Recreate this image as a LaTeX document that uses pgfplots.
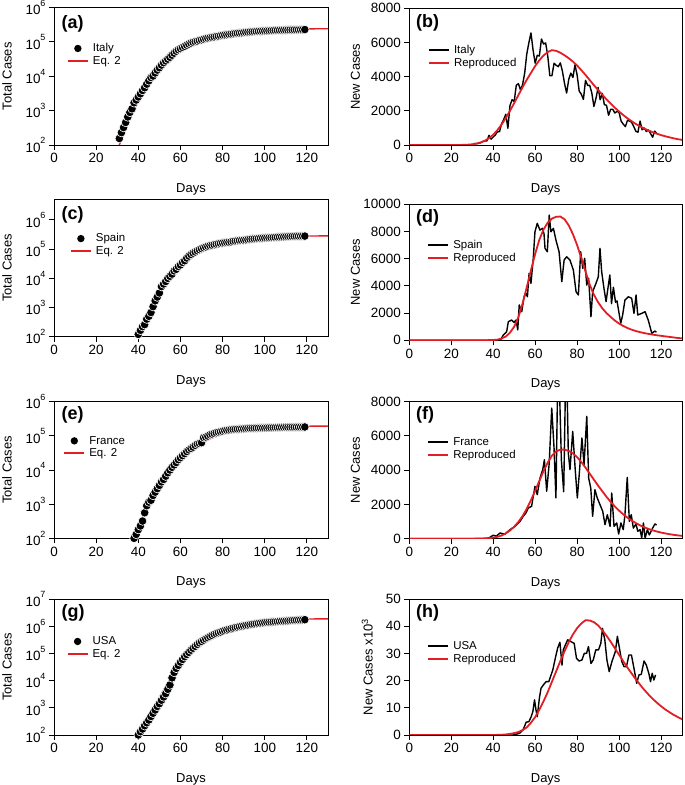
\documentclass[border=0pt]{standalone}
\usepackage{fontspec}
\setmainfont{Liberation Sans}
\usepackage{pgfplots}
\pgfplotsset{compat=1.18}
\definecolor{myred}{RGB}{226,30,36}
\newcommand{\tp}[1]{10\raisebox{0.62em}{\fontsize{9}{9}\selectfont #1}}
\pgfplotsset{
  myBase/.style={scale only axis, width=274bp, xmin=0, xmax=130, xtick={0,20,...,120},
    tick align=outside, xtick pos=bottom, ytick pos=left, major tick length=5bp,
    every tick/.style={black, line width=0.9bp}, axis line style={black, line width=0.9bp},
    tick label style={font=\fontsize{13.5}{15}\selectfont},
    label style={font=\fontsize{13}{15}\selectfont},
    xlabel={Days},
    xlabel style={at={(axis description cs:0.5,-0.325)}, anchor=center},
    /pgf/number format/assume math mode=true, /pgf/number format/1000 sep={},
    scaled y ticks=false, clip=true,
    legend style={draw=none, fill=none, inner sep=0pt, outer sep=0pt,
      font=\fontsize{11.5}{12}\selectfont, row sep=1bp, column sep=3bp,
      anchor=north west, nodes={inner sep=1bp}},
    legend cell align=left,
    legend image code/.code={\draw[mark repeat=2,mark phase=2,##1,line width=2bp] plot coordinates {(0bp,0bp) (10bp,0bp) (20bp,0bp)};},
  },
  myLeft/.style={myBase, yminorticks=false, ylabel={Total Cases},
    ylabel style={at={(axis description cs:-0.172,0.5)}, anchor=center}},
  myRight/.style={myBase, width=272.7bp, ymin=0, ylabel={New Cases},
    ylabel style={at={(axis description cs:-0.198,0.5)}, anchor=center}},
  myMk/.style={only marks, mark=*, mark size=4.3bp, mark options={fill=black, draw=white, line width=0.6bp}, forget plot},
  myFitL/.style={color=myred, line width=1.4bp, no marks},
  myFitR/.style={color=myred, line width=1.8bp, no marks},
  myBlk/.style={black, line width=1.4bp, no marks, line join=round},
}
\tikzset{plab/.style={anchor=west, font=\fontsize{18}{20}\selectfont\bfseries}}
\begin{document}
\begin{tikzpicture}
\useasboundingbox (0,0) rectangle (685bp,785bp);

% ---------------- (a) Italy total ----------------
\begin{axis}[myLeft, ymode=log, ymin=100, ymax=1e6, at={(54bp,640bp)}, anchor=south west, height=137.5bp,
  ytick={1e2,1e3,1e4,1e5,1e6}, yticklabels={\tp{2},\tp{3},\tp{4},\tp{5},\tp{6}},
  legend style={at={(axis description cs:0.047,0.745)}}]
\addlegendimage{/tikz/only marks, mark=*, black, mark size=2.6bp}\addlegendentry{Italy}
\addplot[myMk] coordinates {(31,155)(32,229)(33,322)(34,453)(35,655)(36,888)(37,1128)(38,1694)(39,2036)(40,2502)(41,3089)(42,3858)(43,4636)(44,5883)(45,7375)(46,9172)(47,10149)(48,12462)(49,15113)(50,17660)(51,21157)(52,24747)(53,27980)(54,31506)(55,35713)(56,41035)(57,47021)(58,53578)(59,59138)(60,63927)(61,69176)(62,74386)(63,80589)(64,86498)(65,92472)(66,97689)(67,101739)(68,105792)(69,110574)(70,115242)(71,119827)(72,124632)(73,128948)(74,132547)(75,135586)(76,139422)(77,143626)(78,147577)(79,152271)(80,156363)(81,159516)(82,162488)(83,165155)(84,168941)(85,172434)(86,175925)(87,178972)(88,181228)(89,183957)(90,187327)(91,189973)(92,192994)(93,195351)(94,197675)(95,199414)(96,201505)(97,203591)(98,205463)(99,207428)(100,209328)(101,210717)(102,211938)(103,213013)(104,214457)(105,215858)(106,217185)(107,218268)(108,219070)(109,219814)(110,221216)(111,222104)(112,223096)(113,223885)(114,224760)(115,225435)(116,225886)(117,226699)(118,227364)(119,228006)};
\addplot[myFitL] coordinates {(31,100)(32,145)(33,210)(34,300)(35,420)(36,580)(37,790)(38,1070)(40,1900)(42,3200)(44,5200)(46,8000)(48,12000)(50,17300)(52,24000)(54,32000)(56,41000)(58,51000)(60,61000)(62,72000)(64,83000)(66,95000)(68,106000)(70,117000)(72,128000)(74,138000)(76,148000)(78,157000)(80,166000)(82,174000)(84,181000)(86,188000)(88,194000)(90,200000)(92,205000)(94,210000)(96,214000)(98,218000)(100,221500)(102,224500)(104,227000)(106,229500)(108,231500)(110,233300)(112,234800)(114,236100)(116,237200)(118,238100)(120,238900)(124,240100)(130,241300)};
\addlegendentry{Eq. 2}
\node[plab] at (axis description cs:0.015,0.884) {(a)};
\end{axis}

% ---------------- (b) Italy new ----------------
\begin{axis}[myRight, at={(409.3bp,640bp)}, anchor=south west, height=136.7bp, ymax=8000,
  ytick={0,2000,...,8000},
  legend style={at={(axis description cs:0.0686,0.736)}}]
\addplot[myBlk] coordinates {(0,0)(30,0)(31,90)(32,75)(33,95)(34,130)(35,200)(36,235)(37,240)(38,566)(39,342)(40,466)(41,587)(42,769)(43,778)(44,1247)(45,1492)(46,1797)(47,977)(48,2313)(49,2651)(50,2547)(51,3497)(52,3590)(53,3233)(54,3526)(55,4207)(56,5322)(57,5986)(58,6557)(59,5560)(60,4789)(61,5249)(62,5210)(63,6203)(64,5909)(65,5974)(66,5217)(67,4050)(68,4053)(69,4782)(70,4668)(71,4585)(72,4805)(73,4316)(74,3599)(75,3039)(76,3836)(77,4204)(78,3951)(79,4694)(80,4092)(81,3153)(82,2972)(83,2667)(84,3786)(85,3493)(86,3491)(87,3047)(88,2256)(89,2729)(90,3370)(91,2646)(92,3021)(93,2357)(94,2324)(95,1739)(96,2091)(97,2086)(98,1872)(99,1965)(100,1900)(101,1389)(102,1221)(103,1075)(104,1444)(105,1401)(106,1327)(107,1083)(108,802)(109,744)(110,1402)(111,888)(112,992)(113,789)(114,875)(115,675)(116,451)(117,813)(118,665)};
\addlegendentry{Italy}
\addplot[myFitR] coordinates {(0,0)(20,0)(25,5)(28,20)(30,40)(32,80)(34,150)(36,250)(38,400)(40,600)(42,870)(44,1200)(46,1580)(48,2000)(50,2450)(52,2920)(54,3380)(56,3820)(58,4220)(60,4620)(62,4960)(64,5240)(66,5440)(68,5550)(70,5510)(72,5400)(74,5250)(76,5080)(78,4880)(80,4650)(82,4380)(84,4100)(86,3800)(88,3500)(90,3220)(92,2940)(94,2670)(96,2420)(98,2180)(100,1960)(102,1750)(104,1560)(106,1390)(108,1230)(110,1090)(112,960)(114,850)(116,750)(118,660)(120,580)(122,510)(124,450)(126,390)(128,340)(130,300)};
\addlegendentry{Reproduced}
\node[plab] at (axis description cs:0.0125,0.89) {(b)};
\end{axis}

% ---------------- (c) Spain total ----------------
\begin{axis}[myLeft, ymode=log, ymin=100, ymax=5e6, at={(54bp,448.3bp)}, anchor=south west, height=137.2bp,
  ytick={1e2,1e3,1e4,1e5,1e6}, yticklabels={\tp{2},\tp{3},\tp{4},\tp{5},\tp{6}},
  legend style={at={(axis description cs:0.058,0.758)}}]
\addlegendimage{/tikz/only marks, mark=*, black, mark size=2.6bp}\addlegendentry{Spain}
\addplot[myMk] coordinates {(40,120)(41,165)(42,222)(43,259)(44,400)(45,500)(46,673)(47,1073)(48,1695)(49,2277)(50,3146)(51,5232)(52,6391)(53,7798)(54,9942)(55,11748)(56,13910)(57,17963)(58,20410)(59,25374)(60,28768)(61,35136)(62,39885)(63,49515)(64,57786)(65,65719)(66,73235)(67,80110)(68,87956)(69,95923)(70,104118)(71,112065)(72,119199)(73,126168)(74,131646)(75,136675)(76,141942)(77,148220)(78,153222)(79,158273)(80,163027)(81,166831)(82,170099)(83,172541)(84,177644)(85,184948)(86,190839)(87,194416)(88,198674)(89,200210)(90,204178)(91,208389)(92,213024)(93,219764)(94,223759)(95,226629)(96,229422)(97,232128)(98,236899)(99,239639)(100,242988)(101,245567)(102,247122)(103,248301)(104,250561)(105,253682)(106,256855)(107,260117)(108,262783)(109,264663)(110,268143)(111,269520)(112,271095)(113,272646)(114,274367)(115,276505)(116,276505)(117,277719)(118,278188)(119,278803)};
\addplot[myFitL] coordinates {(40,110)(42,175)(44,330)(46,720)(48,1600)(50,3300)(52,6150)(54,10400)(56,16200)(58,23850)(60,33600)(62,45400)(64,59100)(66,74500)(68,91250)(70,108900)(72,127050)(74,145250)(76,163100)(78,180200)(80,196100)(82,210400)(84,222900)(86,233600)(88,242500)(90,249750)(92,255650)(94,260450)(96,264350)(98,267500)(100,270050)(102,272150)(104,273880)(106,275360)(108,276650)(110,277740)(112,278660)(114,279430)(116,280080)(118,280640)(120,281120)(124,281880)(130,282640)};
\addlegendentry{Eq. 2}
\node[plab] at (axis description cs:0.015,0.887) {(c)};
\end{axis}

% ---------------- (d) Spain new ----------------
\begin{axis}[myRight, at={(409.3bp,444.7bp)}, anchor=south west, height=136bp, ymax=10000,
  ytick={0,2000,...,10000},
  legend style={at={(axis description cs:0.066,0.742)}}]
\addplot[myBlk] coordinates {(0,0)(43.4,0)(44.8,390)(46.4,630)(47.2,1370)(48.8,1490)(49.9,1320)(50.9,1490)(51.7,760)(52.4,2600)(53.6,2100)(54.7,3200)(55.6,3450)(56.3,3200)(57.1,4920)(58.0,4190)(59.1,6030)(59.9,7980)(61.0,8600)(62.3,8100)(63.4,8230)(64.2,7860)(64.7,6760)(65.8,6510)(66.7,9210)(67.5,7980)(68.7,8230)(69.9,7370)(71.4,6510)(72.7,4310)(73.8,5900)(75.0,6140)(76.6,5900)(78.2,5170)(79.5,3570)(80.6,3330)(81.7,6510)(82.7,5290)(83.6,6030)(84.6,4060)(85.5,4560)(86.6,1730)(87.4,3570)(89.0,4190)(90.1,4670)(90.9,6760)(91.7,5040)(92.8,3820)(93.8,2840)(94.9,4060)(95.6,4800)(96.4,2700)(97.3,3900)(98.3,2800)(99.0,2900)(100.8,1250)(101.7,1860)(102.8,2960)(104.4,3200)(106.0,3090)(107.1,1980)(108.1,3330)(108.9,1860)(110.8,1980)(112.4,2100)(113.9,1490)(115.6,510)(117.1,680)(117.8,600)};
\addlegendentry{Spain}
\addplot[myFitR] coordinates {(0,0)(30,0)(36,5)(40,20)(42,50)(44,130)(46,280)(48,560)(50,1000)(52,1700)(54,2700)(56,3900)(58,5150)(60,6350)(62,7400)(64,8150)(66,8650)(68,8950)(70,9080)(72,9100)(74,8900)(76,8450)(78,7800)(80,7000)(82,6050)(84,5050)(86,4100)(88,3350)(90,2800)(92,2350)(94,2000)(96,1720)(98,1450)(100,1230)(102,1050)(104,900)(106,780)(108,680)(110,600)(112,530)(114,470)(116,420)(118,370)(120,330)(122,290)(124,250)(126,210)(128,170)(130,140)};
\addlegendentry{Reproduced}
\node[plab] at (axis description cs:0.0125,0.897) {(d)};
\end{axis}

% ---------------- (e) France total ----------------
\begin{axis}[myLeft, ymode=log, ymin=100, ymax=1e6, at={(54bp,246.7bp)}, anchor=south west, height=136.6bp,
  ytick={1e2,1e3,1e4,1e5,1e6}, yticklabels={\tp{2},\tp{3},\tp{4},\tp{5},\tp{6}},
  legend style={at={(axis description cs:0.034,0.755)}}]
\addlegendimage{/tikz/only marks, mark=*, black, mark size=2.6bp}\addlegendentry{France}
\addplot[myMk] coordinates {(38,100)(39,130)(40,180)(41,230)(42,320)(43,560)(44,900)(45,1150)(46,1300)(47,1800)(48,2250)(49,2850)(50,3550)(51,4500)(52,5300)(53,6600)(54,8300)(55,10000)(56,12000)(57,14100)(58,16600)(59,20000)(60,22900)(61,26300)(62,30200)(63,34700)(64,38900)(65,42700)(66,46800)(67,52500)(68,57500)(69,60000)(70,63000)(71,89000)(72,93000)(73,99000)(74,108000)(75,113000)(76,118000)(77,124000)(78,129000)(79,133000)(80,137000)(81,143000)(82,146000)(83,149000)(84,152000)(85,154000)(86,156000)(87,158000)(88,159500)(89,161000)(90,162500)(91,164000)(92,165500)(93,166500)(94,167500)(95,168500)(96,169500)(97,170500)(98,171000)(99,171500)(100,172000)(101,172700)(102,173500)(103,174000)(104,174800)(105,175500)(106,176000)(107,176500)(108,177000)(109,177500)(110,178000)(111,178400)(112,178800)(113,179200)(114,179600)(115,180000)(116,180400)(117,180800)(118,181300)(119,181800)};
\addplot[myFitL] coordinates {(38,100)(40,190)(42,360)(44,660)(46,1160)(48,1950)(50,3130)(52,4810)(54,7110)(56,10180)(58,14180)(60,19230)(62,25410)(64,32740)(66,41140)(68,50440)(70,60390)(72,70690)(74,81090)(76,91420)(78,101530)(80,111270)(82,120510)(84,129140)(86,137090)(88,144340)(90,150890)(92,156760)(94,161980)(96,166580)(98,170610)(100,174130)(102,177190)(104,179840)(106,182130)(108,184100)(110,185790)(112,187240)(114,188480)(116,189540)(118,190450)(120,191230)(124,192475)(130,193745)};
\addlegendentry{Eq. 2}
\node[plab] at (axis description cs:0.015,0.903) {(e)};
\end{axis}

% ---------------- (f) France new ----------------
\begin{axis}[myRight, at={(409.3bp,246.3bp)}, anchor=south west, height=137bp, ymax=8000,
  ytick={0,2000,...,8000},
  legend style={at={(axis description cs:0.066,0.745)}}]
\addplot[myBlk] coordinates {(0,0)(36,0)(38,50)(40,200)(41.5,150)(43.2,330)(45.6,270)(48.0,530)(50.4,720)(52.8,1010)(54.3,1310)(55.6,1500)(56.7,1790)(58.3,1890)(59.9,3060)(61.0,2570)(62.3,3540)(63.6,4030)(64.4,4610)(65.5,2770)(66.7,4420)(67.9,7630)(69.0,5300)(69.9,2380)(71.0,11500)(72.5,4590)(73.6,2740)(74.8,11500)(75.8,5000)(76.6,4030)(77.9,6270)(79.1,4030)(80.1,2380)(81.0,3740)(82.3,5880)(83.3,4320)(84.6,7150)(85.5,3540)(86.5,2960)(87.4,1310)(88.5,2860)(89.6,2380)(90.9,1990)(92.2,1600)(93.3,820)(94.4,1400)(95.7,720)(96.5,2670)(97.6,720)(98.9,920)(99.8,270)(100.9,920)(102.0,530)(102.8,1400)(103.9,3580)(104.9,1010)(105.8,1400)(106.8,620)(108.1,860)(108.9,430)(110.0,530)(110.8,50)(111.6,920)(112.4,30)(113.5,530)(114.4,220)(116.0,620)(117.1,860)(117.9,800)};
\addlegendentry{France}
\addplot[myFitR] coordinates {(0,0)(30,0)(34,10)(38,30)(40,60)(42,110)(44,190)(46,310)(48,480)(50,700)(52,980)(54,1320)(56,1750)(58,2250)(60,2800)(62,3380)(64,3950)(66,4450)(68,4850)(70,5100)(72,5200)(74,5200)(76,5130)(78,4980)(80,4760)(82,4480)(84,4150)(86,3800)(88,3450)(90,3100)(92,2770)(94,2450)(96,2150)(98,1880)(100,1640)(102,1420)(104,1230)(106,1060)(108,910)(110,780)(112,670)(114,570)(116,490)(118,420)(120,360)(122,310)(124,265)(126,225)(128,195)(130,165)};
\addlegendentry{Reproduced}
\node[plab] at (axis description cs:0.0125,0.903) {(f)};
\end{axis}

% ---------------- (g) USA total ----------------
\begin{axis}[myLeft, ymode=log, ymin=100, ymax=1e7, at={(54bp,50bp)}, anchor=south west, height=136bp,
  ytick={1e2,1e3,1e4,1e5,1e6,1e7}, yticklabels={\tp{2},\tp{3},\tp{4},\tp{5},\tp{6},\tp{7}},
  legend style={at={(axis description cs:0.046,0.73)}}]
\addlegendimage{/tikz/only marks, mark=*, black, mark size=2.6bp}\addlegendentry{USA}
\addplot[myMk] coordinates {(40,100)(41,132)(42,166)(43,219)(44,282)(45,355)(46,479)(47,631)(48,832)(49,1122)(50,1413)(51,1905)(52,2512)(53,3311)(54,4786)(55,6918)(56,12589)(57,19953)(58,28184)(59,36308)(60,47863)(61,60256)(62,75858)(63,91201)(64,109648)(65,131826)(66,154882)(67,181970)(68,213796)(69,245471)(70,275423)(71,309030)(72,346737)(73,380189)(74,416869)(75,457088)(76,501187)(77,537032)(78,575440)(79,616595)(80,660693)(81,700000)(82,735000)(83,770000)(84,810000)(85,850000)(86,890000)(87,930000)(88,970000)(89,1005000)(90,1040000)(91,1075000)(92,1110000)(93,1145000)(94,1180000)(95,1212000)(96,1244000)(97,1276000)(98,1308000)(99,1340000)(100,1370000)(101,1390000)(102,1410000)(103,1430000)(104,1450000)(105,1470000)(106,1490000)(107,1510000)(108,1530000)(109,1550000)(110,1570000)(111,1590000)(112,1610000)(113,1628000)(114,1646000)(115,1664000)(116,1682000)(117,1700000)(118,1718000)(119,1736000)};
\addplot[myFitL] coordinates {(40,100)(42,190)(44,360)(46,680)(48,1260)(50,2400)(52,4470)(54,8130)(56,14800)(58,26900)(60,44700)(62,70800)(64,105000)(66,148000)(68,200000)(70,269000)(72,347000)(74,427000)(76,513000)(78,603000)(80,692000)(82,794000)(84,891000)(86,977000)(88,1070000)(90,1175000)(92,1259000)(94,1334000)(96,1413000)(98,1479000)(100,1531000)(102,1578000)(104,1622000)(106,1660000)(108,1698000)(110,1730000)(112,1758000)(114,1778000)(116,1799000)(118,1820000)(120,1832000)(124,1849000)(130,1862000)};
\addlegendentry{Eq. 2}
\node[plab] at (axis description cs:0.015,0.895) {(g)};
\end{axis}

% ---------------- (h) USA new ----------------
\begin{axis}[myRight, at={(409.3bp,50bp)}, anchor=south west, height=136bp, ymax=50,
  ytick={0,10,...,50}, ylabel={New Cases x10\textsuperscript{3}},
  ylabel style={at={(axis description cs:-0.154,0.5)}, anchor=center},
  legend style={at={(axis description cs:0.066,0.695)}}]
\addplot[myBlk] coordinates {(0,0)(49.4,0)(52.5,0.6)(54.1,1.8)(54.9,3.1)(55.7,4.7)(57.0,4.9)(58.1,6.7)(58.9,8.6)(59.7,12.9)(60.4,9.2)(61.0,6.7)(62.0,13.5)(62.8,17.2)(63.9,18.4)(65.2,19.6)(66.5,19.6)(67.6,22.1)(68.4,23.9)(69.6,28.2)(70.7,31.9)(71.8,34.1)(72.8,25.7)(73.4,31.3)(74.4,33.1)(75.5,35.0)(77.1,34.3)(78.6,33.7)(79.7,28.2)(81.0,27.2)(82.3,27.6)(83.4,30.0)(84.5,30.0)(85.4,32.5)(86.6,26.3)(87.7,27.6)(88.9,31.3)(90.2,31.3)(91.3,33.7)(92.1,39.2)(93.2,35.0)(94.2,27.6)(95.3,23.3)(96.6,27.0)(98.2,30.6)(99.2,36.3)(100.3,31.3)(101.3,27.0)(102.4,25.1)(103.5,25.1)(104.7,29.4)(105.9,29.4)(107.1,24.5)(108.4,19.0)(109.5,22.1)(110.6,22.3)(111.9,27.2)(113.0,25.7)(114.3,22.3)(115.0,19.6)(115.8,22.7)(116.6,20.2)(117.4,22.1)};
\addlegendentry{USA}
\addplot[myFitR] coordinates {(0,0)(40,0)(44,0.1)(46,0.2)(48,0.4)(50,0.7)(52,1.1)(54,1.8)(56,2.8)(58,4.5)(60,6.6)(62,9.3)(64,12.4)(66,15.8)(68,19.6)(70,23.4)(72,27.2)(74,30.8)(76,34.1)(78,37.0)(80,39.3)(82,41.0)(84,42.2)(86,42.1)(88,41.5)(90,40.3)(92,38.5)(94,36.5)(96,34.3)(98,31.9)(100,29.5)(102,27.1)(104,24.8)(106,22.6)(108,20.5)(110,18.5)(112,16.6)(114,14.9)(116,13.3)(118,11.9)(120,10.6)(122,9.4)(124,8.4)(126,7.4)(128,6.6)(130,5.8)};
\addlegendentry{Reproduced}
\node[plab] at (axis description cs:0.0125,0.895) {(h)};
\end{axis}
\end{tikzpicture}
\end{document}
